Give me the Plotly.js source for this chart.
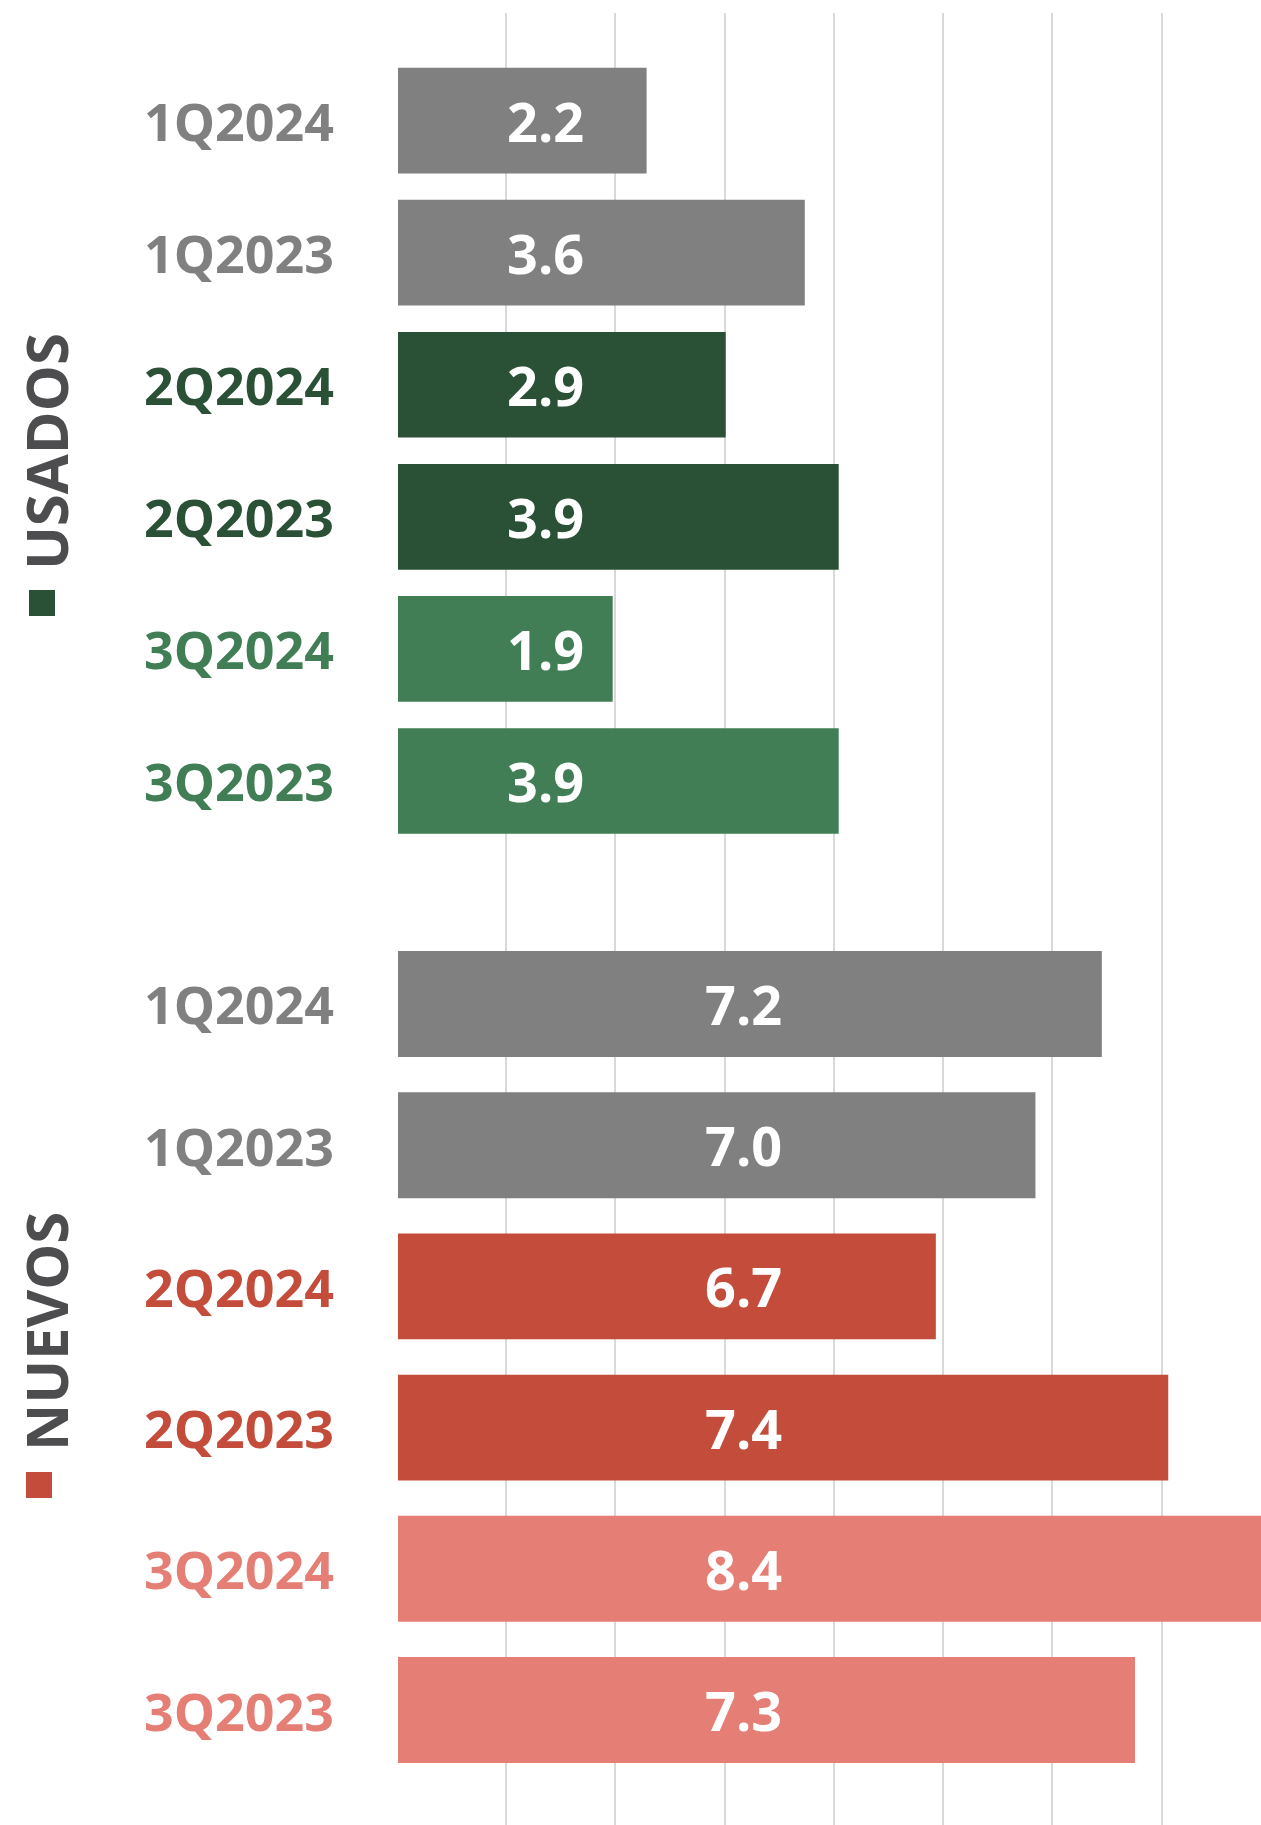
<!DOCTYPE html>
<html>
<head>
<meta charset="utf-8">
<script src="https://cdn.plot.ly/plotly-3.0.1.min.js"></script>
<style>
  html, body { margin: 0; padding: 0; background: #ffffff; }
  #chart { width: 1261px; height: 1825px; }
</style>
</head>
<body>
<div id="chart"></div>
<script>
// ---- Data ----
const categories = ['1Q2024', '1Q2023', '2Q2024', '2Q2023', '3Q2024', '3Q2023'];
const usadosValues = [2.2, 3.6, 2.9, 3.9, 1.9, 3.9];
const nuevosValues = [7.2, 7.0, 6.7, 7.4, 8.4, 7.3];
const usadosColors = ['#808080', '#808080', '#2a5136', '#2a5136', '#417e55', '#417e55'];
const nuevosColors = ['#808080', '#808080', '#c44c3b', '#c44c3b', '#e57f76', '#e57f76'];
const groupTitles = ['USADOS', 'NUEVOS'];
const groupColors = ['#2a5136', '#c44c3b'];

// ---- Layout helpers ----
const W = 1261, H = 1825;
const px = v => v / W;
const py = v => 1 - v / H;
const FONT = '"Open Sans", "DejaVu Sans", sans-serif';

const traces = [
  // grid carrier (empty)
  { type: 'scatter', x: [], y: [], xaxis: 'x', yaxis: 'y', hoverinfo: 'skip', showlegend: false },
  {
    type: 'bar', orientation: 'h', x: usadosValues, y: categories,
    xaxis: 'x2', yaxis: 'y2', width: 0.8,
    marker: { color: usadosColors, line: { width: 0 } },
    hoverinfo: 'skip', showlegend: false
  },
  {
    type: 'bar', orientation: 'h', x: nuevosValues, y: categories,
    xaxis: 'x3', yaxis: 'y3', width: 0.75,
    marker: { color: nuevosColors, line: { width: 0 } },
    hoverinfo: 'skip', showlegend: false
  }
];

const annotations = [];
function addGroup(values, colors, yref) {
  categories.forEach((c, i) => {
    annotations.push({
      xref: 'paper', yref: yref, x: px(336), y: c, xanchor: 'right', yanchor: 'middle',
      text: c, showarrow: false,
      font: { family: FONT, size: 52, weight: 700, color: colors[i] }
    });
  });
}
addGroup(usadosValues, usadosColors, 'y2');
addGroup(nuevosValues, nuevosColors, 'y3');

categories.forEach((c, i) => {
  annotations.push({
    xref: 'paper', yref: 'y2', x: px(545), y: c, xanchor: 'center', yanchor: 'middle',
    text: usadosValues[i].toFixed(1), showarrow: false,
    font: { family: FONT, size: 54, weight: 700, color: '#ffffff' }
  });
  annotations.push({
    xref: 'paper', yref: 'y3', x: px(743), y: c, xanchor: 'center', yanchor: 'middle',
    text: nuevosValues[i].toFixed(1), showarrow: false,
    font: { family: FONT, size: 54, weight: 700, color: '#ffffff' }
  });
});

const titleCenters = [[45, 452], [45, 1332]];
groupTitles.forEach((t, i) => {
  annotations.push({
    xref: 'paper', yref: 'paper', x: px(titleCenters[i][0]), y: py(titleCenters[i][1]),
    xanchor: 'center', yanchor: 'middle', textangle: -90,
    text: t, showarrow: false,
    font: { family: FONT, size: 58, weight: 700, color: '#4d4d4f' }
  });
});

const squares = [[29, 590], [26, 1472]];
const shapes = squares.map((s, i) => ({
  type: 'rect', xref: 'paper', yref: 'paper',
  x0: px(s[0]), x1: px(s[0] + 26), y0: py(s[1] + 26), y1: py(s[1]),
  fillcolor: groupColors[i], line: { width: 0 }
}));

const plotLeft = px(398);
const layout = {
  width: W, height: H,
  margin: { l: 0, r: 0, t: 0, b: 0, pad: 0 },
  paper_bgcolor: '#ffffff',
  plot_bgcolor: 'rgba(0,0,0,0)',
  showlegend: false,
  xaxis: {
    domain: [plotLeft, 1], anchor: 'y', range: [0.01, 863 / 109.1],
    tick0: 0, dtick: 1, showgrid: true, gridcolor: '#d9d9d9', gridwidth: 2,
    zeroline: false, showticklabels: false, ticks: '', showline: false, fixedrange: true
  },
  yaxis: {
    domain: [0, py(13)], anchor: 'x', range: [0, 1],
    showgrid: false, zeroline: false, showticklabels: false, ticks: '', showline: false, fixedrange: true
  },
  xaxis2: {
    domain: [plotLeft, 1], anchor: 'y2', range: [0, 863 / 113],
    visible: false, fixedrange: true
  },
  yaxis2: {
    domain: [py(847), py(54.5)], anchor: 'x2', type: 'category',
    autorange: 'reversed', visible: false, fixedrange: true
  },
  xaxis3: {
    domain: [plotLeft, 1], anchor: 'y3', range: [5.08, 5.08 + 863 / 332],
    visible: false, fixedrange: true
  },
  yaxis3: {
    domain: [py(1780.6), py(933.4)], anchor: 'x3', type: 'category',
    autorange: 'reversed', visible: false, fixedrange: true
  },
  annotations: annotations,
  shapes: shapes
};

Plotly.newPlot('chart', traces, layout, { displayModeBar: false, staticPlot: true });
</script>
</body>
</html>
